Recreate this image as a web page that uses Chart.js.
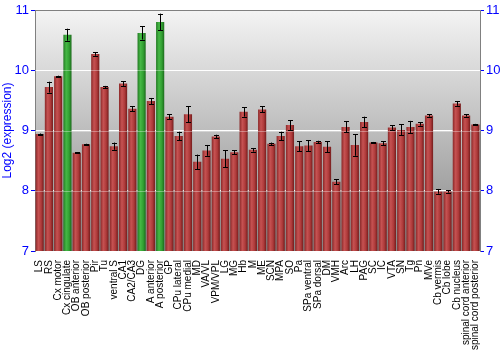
<!DOCTYPE html>
<html>
<head>
<meta charset="utf-8">
<script src="https://cdn.jsdelivr.net/npm/chart.js@4"></script>
<style>
  body { margin: 0; background: #fff; }
  #wrap { width: 500px; height: 350px; }
</style>
</head>
<body>
<div id="wrap"><canvas id="exprChart" width="500" height="350"></canvas></div>
<script>
// ===== data =====
const regions = ['LS', 'RS', 'Cx motor', 'Cx cingulate', 'OB anterior', 'OB posterior', 'Pir', 'Tu',
    'ventral S', 'CA1', 'CA2/CA3', 'DG', 'A anterior', 'A posterior', 'GP', 'CPu lateral', 'CPu medial',
    'MD', 'VA/VL', 'VPM/VPL', 'LG', 'MG', 'Hb', 'M', 'ME', 'SCN', 'MPA', 'SO', 'Pa', 'SPa ventral',
    'SPa dorsal', 'DM', 'VMH', 'Arc', 'LH', 'PAG', 'SC', 'IC', 'VTA', 'SN', 'Tg', 'Pn', 'MVe',
    'Cb vermis', 'Cb lobe', 'Cb nucleus', 'spinal cord anterior', 'spinal cord posterior'];
const expression = [8.94, 9.72, 9.90, 10.59, 8.63, 8.77, 10.27, 9.72,
    8.74, 9.78, 9.36, 10.62, 9.49, 10.80, 9.23, 8.91, 9.27,
    8.48, 8.67, 8.90, 8.53, 8.64, 9.31, 8.68, 9.35, 8.78, 8.91, 9.09, 8.74, 8.75,
    8.81, 8.73, 8.15, 9.06, 8.76, 9.14, 8.80, 8.79, 9.05, 9.01, 9.06, 9.11, 9.25,
    7.99, 7.99, 9.45, 9.25, 9.10];
const errors = [0.01, 0.09, 0.01, 0.10, 0.01, 0.01, 0.03, 0.02,
    0.06, 0.04, 0.04, 0.11, 0.05, 0.14, 0.04, 0.07, 0.13,
    0.12, 0.09, 0.03, 0.14, 0.03, 0.08, 0.03, 0.05, 0.02, 0.07, 0.08, 0.08, 0.09,
    0.02, 0.09, 0.04, 0.09, 0.18, 0.09, 0.01, 0.03, 0.04, 0.09, 0.10, 0.03, 0.02,
    0.04, 0.02, 0.04, 0.02, 0.01];
const highlighted = ['Cx cingulate', 'DG', 'A posterior'];
const yTicks = [7, 8, 9, 10, 11];

const BAR_PCT = 0.88;

// gradient for each bar, across its width
function barFill(c) {
    const chart = c.chart;
    const green = highlighted.includes(regions[c.dataIndex]);
    if (!chart.chartArea) return green ? '#2e9e2e' : '#a83636';
    const xs = chart.scales.x;
    const cx = xs.getPixelForValue(c.dataIndex);
    const half = (xs.width / regions.length) * BAR_PCT / 2;
    const g = chart.ctx.createLinearGradient(cx - half, 0, cx + half, 0);
    if (green) {
        g.addColorStop(0, '#237a23');
        g.addColorStop(0.35, '#45b845');
        g.addColorStop(0.7, '#32a032');
        g.addColorStop(1, '#1c6a1c');
    } else {
        g.addColorStop(0, '#8a2828');
        g.addColorStop(0.35, '#c65252');
        g.addColorStop(0.7, '#ae3a3a');
        g.addColorStop(1, '#731c1c');
    }
    return g;
}

// gray gradient behind the plot + top border
const backdrop = {
    id: 'backdrop',
    beforeDraw(chart) {
        const { ctx, chartArea: a } = chart;
        const g = ctx.createLinearGradient(0, a.top, 0, a.bottom);
        g.addColorStop(0, '#f4f4f4');
        g.addColorStop(1, '#868686');
        ctx.save();
        ctx.fillStyle = g;
        ctx.fillRect(a.left, a.top, a.right - a.left, a.bottom - a.top);
        ctx.restore();
    },
    afterDatasetsDraw(chart) {
        const { ctx, chartArea: a, scales } = chart;
        ctx.save();
        // faint grid lines over the bars
        ctx.strokeStyle = 'rgba(255,255,255,0.35)';
        ctx.lineWidth = 1;
        [8, 9, 10].forEach(v => {
            const y = Math.round(scales.y.getPixelForValue(v)) + 0.5;
            ctx.beginPath();
            ctx.moveTo(a.left, y);
            ctx.lineTo(a.right, y);
            ctx.stroke();
        });
        // top border
        ctx.strokeStyle = '#808080';
        ctx.beginPath();
        ctx.moveTo(a.left, a.top + 0.5);
        ctx.lineTo(a.right, a.top + 0.5);
        ctx.stroke();

        // error bars
        ctx.strokeStyle = '#000';
        expression.forEach((v, i) => {
            const x = Math.round(scales.x.getPixelForValue(i)) + 0.5;
            const y1 = scales.y.getPixelForValue(v + errors[i]);
            const y2 = scales.y.getPixelForValue(v - errors[i]);
            ctx.beginPath();
            ctx.moveTo(x, y1);
            ctx.lineTo(x, y2);
            ctx.moveTo(x - 2.5, Math.round(y1) + 0.5);
            ctx.lineTo(x + 2.5, Math.round(y1) + 0.5);
            ctx.moveTo(x - 2.5, Math.round(y2) + 0.5);
            ctx.lineTo(x + 2.5, Math.round(y2) + 0.5);
            ctx.stroke();
        });
        ctx.restore();
    }
};

const tickFont = { family: '"Liberation Sans", Arial, sans-serif', size: 13 };

new Chart(document.getElementById('exprChart'), {
    type: 'bar',
    data: {
        labels: regions,
        datasets: [{
            label: 'Log2 (expression)',
            data: expression,
            backgroundColor: barFill,
            borderWidth: 0,
            categoryPercentage: 1,
            barPercentage: BAR_PCT
        }]
    },
    options: {
        responsive: false,
        animation: false,
        devicePixelRatio: 1,
        layout: { padding: { top: 10, left: 0, right: 0, bottom: 0 } },
        plugins: { legend: { display: false }, tooltip: { enabled: false } },
        scales: {
            x: {
                grid: { display: false },
                border: { display: false },
                ticks: {
                    autoSkip: false,
                    minRotation: 90,
                    maxRotation: 90,
                    padding: 1,
                    color: '#000',
                    font: { family: '"Liberation Sans", Arial, sans-serif', size: 10 }
                },
                afterFit(s) { s.height = 99; }
            },
            y: {
                position: 'left',
                min: 7, max: 11,
                afterBuildTicks(s) { s.ticks = yTicks.map(v => ({ value: v })); },
                grid: {
                    color: c => (c.tick && c.tick.value > 7 && c.tick.value < 11) ? '#ffffff' : 'rgba(0,0,0,0)',
                    tickColor: '#0000ff',
                    tickLength: 4
                },
                border: { color: '#808080' },
                ticks: { color: '#0000ff', font: tickFont, padding: 2 },
                title: {
                    display: true,
                    text: 'Log2 (expression)',
                    color: '#0000ff',
                    padding: 0,
                    font: { family: '"Liberation Sans", Arial, sans-serif', size: 12 }
                },
                afterFit(s) { s.width = 35; }
            },
            y2: {
                position: 'right',
                min: 7, max: 11,
                afterBuildTicks(s) { s.ticks = yTicks.map(v => ({ value: v })); },
                grid: { drawOnChartArea: false, tickColor: '#0000ff', tickLength: 4 },
                border: { color: '#808080' },
                ticks: { color: '#0000ff', font: tickFont, padding: 2 },
                afterFit(s) { s.width = 20; }
            }
        }
    },
    plugins: [backdrop]
});
</script>
</body>
</html>
